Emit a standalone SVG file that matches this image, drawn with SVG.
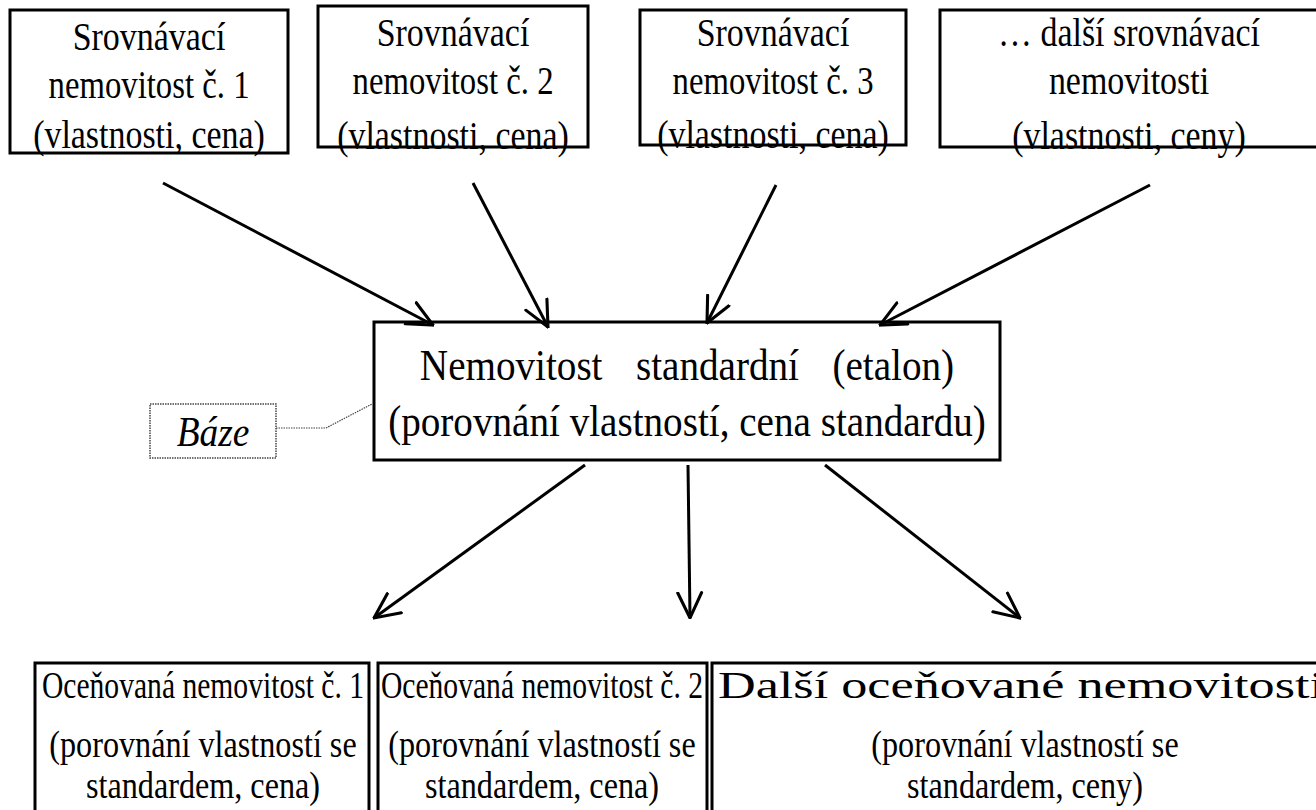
<svg xmlns="http://www.w3.org/2000/svg" width="1316" height="810" viewBox="0 0 1316 810">
<style>
  .box { fill: #fff; stroke: #000; stroke-width: 3; }
  .nf { fill: none; }
  .t { font-family: "Liberation Serif", "Times New Roman", serif; fill: #000; text-anchor: middle; }
  .top { font-size: 39px; }
  .mid { font-size: 45px; }
  .bot { font-size: 37px; }
  .it { font-style: italic; font-size: 43px; }
  .conn { stroke: #000; stroke-width: 3; fill: none; marker-end: url(#arr); }
  .dot { fill: #fff; stroke: #444; stroke-width: 1.5; stroke-dasharray: 1.5 1; }
  .dotl { fill: none; stroke: #444; stroke-width: 1.2; stroke-dasharray: 1.5 1; }
</style>
<defs>
  <marker id="arr" viewBox="0 0 20 20" refX="19" refY="10" markerWidth="28" markerHeight="28" markerUnits="userSpaceOnUse" orient="auto">
    <path d="M1,1.5 L19,10 L1,18.5" fill="none" stroke="#000" stroke-width="2.2" stroke-linecap="round" stroke-linejoin="miter"/>
  </marker>
</defs>
<rect width="1316" height="810" fill="#fff"/>

<g id="s1">
  <rect class="box" x="10" y="10" width="278" height="143"/>
  <text class="t top" transform="translate(149,50) scale(0.87,1)">Srovnávací</text>
  <text class="t top" transform="translate(149,98) scale(0.84,1)">nemovitost č. 1</text>
  <text class="t top" transform="translate(149,148) scale(0.87,1)">(vlastnosti, cena)</text>
</g>
<g id="s2">
  <text class="t top" transform="translate(453,46) scale(0.87,1)">Srovnávací</text>
  <text class="t top" transform="translate(453,94) scale(0.84,1)">nemovitost č. 2</text>
  <text class="t top" transform="translate(453,149) scale(0.87,1)">(vlastnosti, cena)</text>
  <rect class="box nf" x="318" y="6" width="270" height="141"/>
</g>
<g id="s3">
  <text class="t top" transform="translate(773,46) scale(0.87,1)">Srovnávací</text>
  <text class="t top" transform="translate(773,94) scale(0.84,1)">nemovitost č. 3</text>
  <text class="t top" transform="translate(773,148) scale(0.87,1)">(vlastnosti, cena)</text>
  <rect class="box nf" x="640" y="10" width="266" height="135"/>
</g>
<g id="s4">
  <text class="t top" transform="translate(1129,46) scale(0.87,1)">… další srovnávací</text>
  <text class="t top" transform="translate(1129,94) scale(0.87,1)">nemovitosti</text>
  <text class="t top" transform="translate(1129,149) scale(0.87,1)">(vlastnosti, ceny)</text>
  <rect class="box nf" x="940" y="10" width="380" height="137"/>
</g>

<g id="etalon">
  <rect class="box" x="374" y="322" width="626" height="138"/>
  <text class="t mid" transform="translate(687,380) scale(0.87,1)" style="word-spacing:8px" xml:space="preserve">Nemovitost  standardní  (etalon)</text>
  <text class="t mid" transform="translate(687,436) scale(0.87,1)">(porovnání vlastností, cena standardu)</text>
</g>

<g id="baze">
  <rect class="dot" x="150" y="404" width="126" height="54"/>
  <text class="t it" transform="translate(213,446) scale(0.87,1)">Báze</text>
</g>

<g id="o1">
  <rect class="box" x="35" y="663" width="334" height="160"/>
  <text class="t bot" transform="translate(203,698) scale(0.8,1)">Oceňovaná nemovitost č. 1</text>
  <text class="t bot" transform="translate(203,757) scale(0.87,1)">(porovnání vlastností se</text>
  <text class="t bot" transform="translate(203,798) scale(0.87,1)">standardem, cena)</text>
</g>
<g id="o2">
  <rect class="box" x="378" y="663" width="329" height="160"/>
  <text class="t bot" transform="translate(542,698) scale(0.8,1)">Oceňovaná nemovitost č. 2</text>
  <text class="t bot" transform="translate(542,757) scale(0.87,1)">(porovnání vlastností se</text>
  <text class="t bot" transform="translate(542,798) scale(0.87,1)">standardem, cena)</text>
</g>
<g id="o3">
  <rect class="box" x="712" y="663" width="620" height="160"/>
  <text class="t bot" x="718" y="698" style="text-anchor:start" textLength="606" lengthAdjust="spacingAndGlyphs">Další oceňované nemovitosti</text>
  <text class="t bot" transform="translate(1025,757) scale(0.87,1)">(porovnání vlastností se</text>
  <text class="t bot" transform="translate(1025,798) scale(0.87,1)">standardem, ceny)</text>
</g>

<g id="connectors">
  <line class="conn" x1="163" y1="183" x2="433" y2="325"/>
  <line class="conn" x1="473" y1="183" x2="548" y2="327"/>
  <line class="conn" x1="776" y1="185" x2="707" y2="323"/>
  <line class="conn" x1="1150" y1="185" x2="880" y2="325"/>
  <line class="conn" x1="585" y1="465" x2="374" y2="618"/>
  <line class="conn" x1="688" y1="465" x2="690" y2="618"/>
  <line class="conn" x1="825" y1="465" x2="1020" y2="618"/>
  <polyline class="dotl" points="276,428 326,428 372,404"/>
</g>
</svg>
